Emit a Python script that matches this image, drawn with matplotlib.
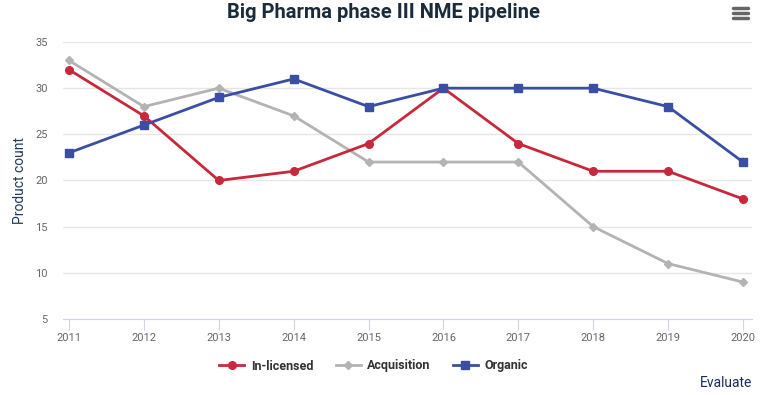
import matplotlib
matplotlib.use("Agg")
import matplotlib.pyplot as plt
from matplotlib.lines import Line2D

years = [2011, 2012, 2013, 2014, 2015, 2016, 2017, 2018, 2019, 2020]
in_licensed = [32, 27, 20, 21, 24, 30, 24, 21, 21, 18]
acquisition = [33, 28, 30, 27, 22, 22, 22, 15, 11, 9]
organic = [23, 26, 29, 31, 28, 30, 30, 30, 28, 22]
yticks = [5, 10, 15, 20, 25, 30, 35]

RED = "#c8283c"
GRAY = "#b3b3b3"
BLUE = "#3a4ea3"

plt.rcParams['font.family'] = ['Roboto', 'DejaVu Sans']

fig = plt.figure(figsize=(7.67, 3.95), dpi=100)
ax = fig.add_axes([63/767, 1-319/395, (752-63)/767, (319-42)/395])

ax.plot(years, in_licensed, color=RED, lw=2, marker='o', ms=5.5, zorder=3, label='In-licensed')
ax.plot(years, acquisition, color=GRAY, lw=2, marker='D', ms=4, zorder=2, label='Acquisition')
ax.plot(years, organic, color=BLUE, lw=2, marker='s', ms=6, zorder=4, label='Organic')

ax.set_xlim(2011 - 6/74.9, 2020 + 9/74.9)
ax.set_ylim(5, 35)
ax.set_yticks(yticks)
ax.set_xticks(years)
ax.set_xticklabels([str(y) for y in years])
ax.grid(axis='y', color='#e6e6e6', lw=1)
ax.set_axisbelow(True)
for s in ['top', 'right', 'left']:
    ax.spines[s].set_visible(False)
ax.spines['bottom'].set_color('#ccd6eb')
ax.tick_params(axis='y', length=0, labelsize=8, labelcolor='#666666', pad=11)
ax.tick_params(axis='x', length=8, color='#ccd6eb', labelsize=8, labelcolor='#666666', pad=2)
ax.set_ylabel('Product count', fontsize=10, color='#1f3a5f', labelpad=6)

fig.text(0.5, 1-12/395, 'Big Pharma phase III NME pipeline', ha='center', va='center',
         fontsize=14.5, fontweight='bold', color='#1a2b3c')

# menu icon
for dy in [8, 13, 18]:
    fig.add_artist(Line2D([733/767, 748/767], [1-dy/395, 1-dy/395], color='#666666', lw=2.5,
                          solid_capstyle='round'))

leg = fig.legend(handles=ax.get_lines(), loc='center', bbox_to_anchor=(0.487, 1-366/395), ncol=3,
                 frameon=False, prop={'weight': 'bold', 'size': 9},
                 handlelength=2, columnspacing=1.8, handletextpad=0.5)
for t in leg.get_texts():
    t.set_color('#333333')

fig.text(752/767, 1-383/395, 'Evaluate', ha='right', va='center', fontsize=10, color='#1a2b5c')

fig.savefig('out.png', dpi=100)
